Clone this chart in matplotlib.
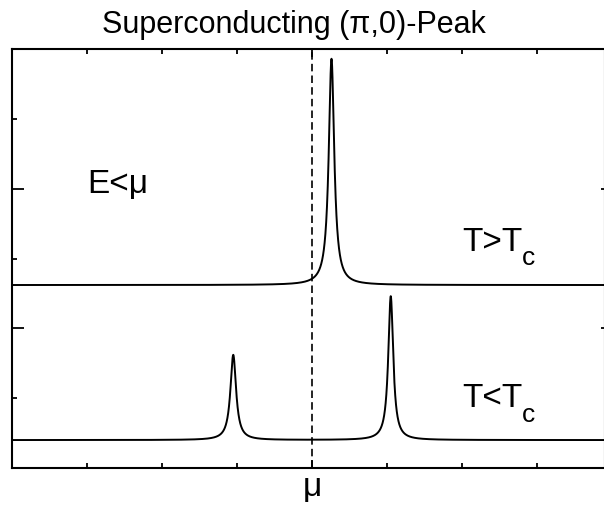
import numpy as np
import matplotlib
matplotlib.use("Agg")
import matplotlib.pyplot as plt
from matplotlib.ticker import FixedLocator

plt.rcParams['font.family'] = ['Liberation Sans', 'DejaVu Sans']

# Spectral peaks (energy relative to mu), one set per temperature
normal_baseline = 1.31
normal_centers = [0.26]
normal_heights = [1.62]
normal_widths = [0.044]

sc_baseline = 0.20
sc_centers = [-1.05, 1.05]
sc_heights = [0.61, 1.03]
sc_widths = [0.046, 0.040]

x_ticks_minor = [-3, -2, -1, 1, 2, 3]
x_tick_major = [0]
x_tick_labels = ['μ']


def spectrum(e, baseline, centers, heights, widths):
    a = np.full_like(e, baseline)
    for c, h, g in zip(centers, heights, widths):
        a += h * g**2 / ((e - c)**2 + g**2)
    return a


W, H = 604, 505
fig = plt.figure(figsize=(W / 100, H / 100), dpi=100)
left, right, bottom, top = 12, 604.5, 468, 49
ax = fig.add_axes([left / W, 1 - bottom / H, (right - left) / W, (bottom - top) / H])

e = np.linspace(-4, 3.9, 6000)
ax.plot(e, spectrum(e, normal_baseline, normal_centers, normal_heights, normal_widths),
        color='black', lw=1.4)
ax.plot(e, spectrum(e, sc_baseline, sc_centers, sc_heights, sc_widths),
        color='black', lw=1.4)
ax.axvline(0, color='black', lw=1.2, linestyle=(0, (4.5, 2.5)))

ax.set_xlim(-4, 3.9)
ax.set_ylim(0, 3)

for s in ax.spines.values():
    s.set_linewidth(1.5)

ax.xaxis.set_major_locator(FixedLocator(x_tick_major))
ax.set_xticklabels(x_tick_labels, fontsize=24)
ax.xaxis.set_minor_locator(FixedLocator(x_ticks_minor))
ax.tick_params(axis='x', which='both', direction='in', top=True, bottom=True, width=1.3)
ax.tick_params(axis='x', which='major', length=6, pad=3)
ax.tick_params(axis='x', which='minor', length=3.5)

ax.yaxis.set_major_locator(FixedLocator([1, 2]))
ax.yaxis.set_minor_locator(FixedLocator([0.5, 1.5, 2.5]))
ax.tick_params(axis='y', which='both', direction='in', left=True, right=False,
               labelleft=False, width=1.3)
ax.tick_params(axis='y', which='major', length=8.4)
ax.tick_params(axis='y', which='minor', length=3.6)

ax_r = ax.twinx()
ax_r.set_ylim(0, 3)
ax_r.yaxis.set_major_locator(FixedLocator([1, 2]))
ax_r.tick_params(axis='y', direction='in', length=3, width=1.3, labelright=False)
for s in ax_r.spines.values():
    s.set_visible(False)

fig.text(294 / W, 1 - 33 / H, 'Superconducting (π,0)-Peak', fontsize=22,
         ha='center', va='baseline')

ax.text(-3.0, 1.97, 'E<μ', fontsize=24, ha='left', va='baseline')
ax.text(2.0, 1.556, 'T>T', fontsize=24, ha='left', va='baseline')
ax.text(2.80, 1.451, 'c', fontsize=19, ha='left', va='baseline')
ax.text(2.0, 0.435, 'T<T', fontsize=24, ha='left', va='baseline')
ax.text(2.80, 0.330, 'c', fontsize=19, ha='left', va='baseline')

fig.savefig('out.png', dpi=100)
